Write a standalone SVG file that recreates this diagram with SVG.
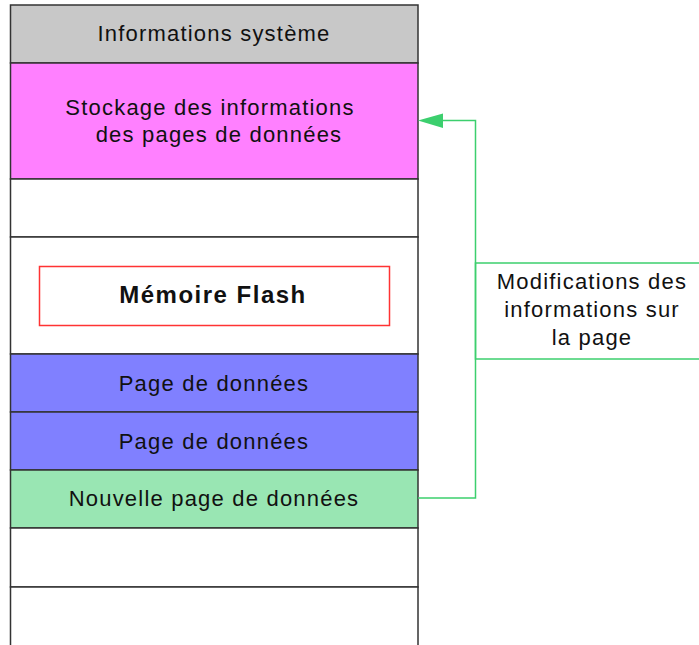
<svg xmlns="http://www.w3.org/2000/svg" width="699" height="645" viewBox="0 0 699 645">
<style>
.row{stroke:#333;stroke-width:1.5}
.t{font-family:"Liberation Sans",Arial,sans-serif;font-size:22px;fill:#111;text-anchor:middle;letter-spacing:1.2px}
.b{font-weight:bold;font-size:24px;letter-spacing:1.5px}
.g{stroke:#3ccf6e;stroke-width:1.5;fill:none}
</style>
<rect width="699" height="645" fill="#fff"/>
<g id="sys"><rect class="row" x="10.5" y="5" width="407.5" height="58" fill="#c8c8c8"/><text class="t" x="214" y="41">Informations système</text></g>
<g id="stock"><rect class="row" x="10.5" y="63" width="407.5" height="116" fill="#ff80ff"/><text class="t" x="210" y="115">Stockage des informations</text><text class="t" x="219" y="142">des pages de données</text></g>
<g id="empty1"><rect class="row" x="10.5" y="179" width="407.5" height="58" fill="#fff"/></g>
<g id="flash"><rect class="row" x="10.5" y="237" width="407.5" height="117" fill="#fff"/><rect x="39.5" y="266.5" width="350" height="59" fill="none" stroke="#ff3333" stroke-width="1.5"/><text class="t b" x="213" y="303">Mémoire Flash</text></g>
<g id="page1"><rect class="row" x="10.5" y="354" width="407.5" height="58" fill="#8080ff"/><text class="t" x="214" y="390.5">Page de données</text></g>
<g id="page2"><rect class="row" x="10.5" y="412" width="407.5" height="58" fill="#8080ff"/><text class="t" x="214" y="448.5">Page de données</text></g>
<g id="newpage"><rect class="row" x="10.5" y="470" width="407.5" height="58" fill="#99e6b3"/><text class="t" x="214" y="506">Nouvelle page de données</text></g>
<g id="empty2"><rect class="row" x="10.5" y="528" width="407.5" height="59" fill="#fff"/></g>
<g id="empty3"><rect class="row" x="10.5" y="587" width="407.5" height="70" fill="#fff"/></g>
<g id="connectors">
<polyline class="g" points="418,498 475.5,498 475.5,120.5 440,120.5"/>
<polygon points="418,120.5 443,113.5 443,128" fill="#3ccf6e"/>
</g>
<g id="label">
<rect class="g" x="475.5" y="263" width="240" height="96"/>
<text class="t" x="592" y="289">Modifications des</text>
<text class="t" x="592" y="317">informations sur</text>
<text class="t" x="592" y="345">la page</text>
</g>
</svg>
